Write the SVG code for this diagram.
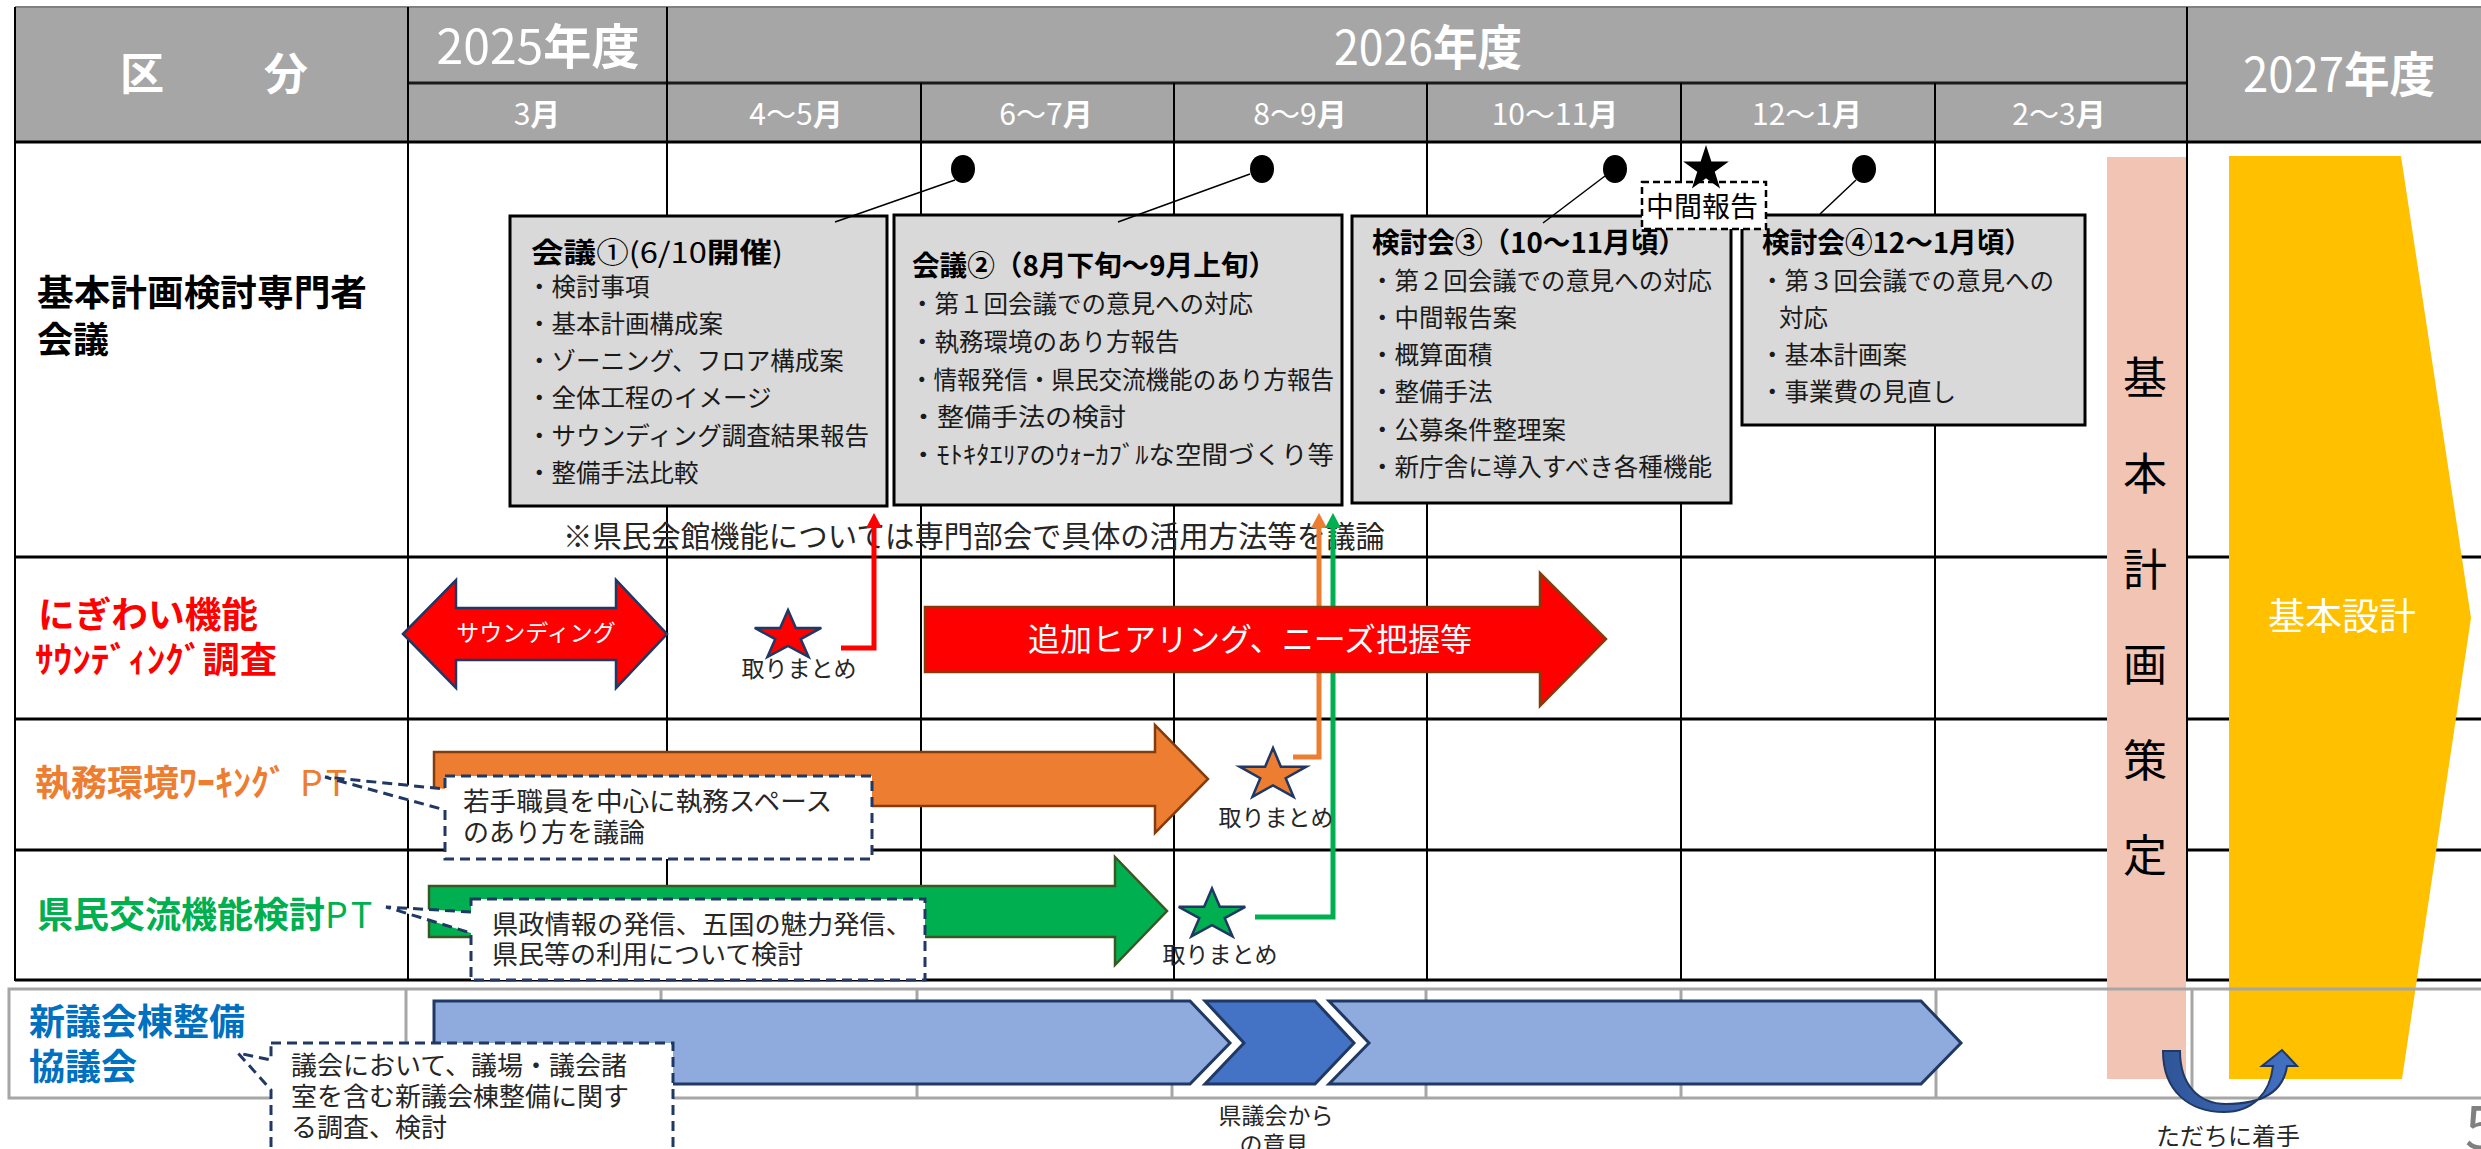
<svg xmlns="http://www.w3.org/2000/svg" width="2481" height="1149" viewBox="0 0 2481 1149">
<defs>
<style>
text { font-family: "Noto Sans CJK JP", "Noto Sans", sans-serif; }
.hd { fill:#fff; }
.b { font-weight:bold; }
.mon { font-size:30px; text-anchor:middle; fill:#fff; }
.hl { stroke:#1a1a1a; stroke-width:3; }
.gl { stroke:#000; stroke-width:2; }
.rl { stroke:#000; stroke-width:3; }
.g5 { stroke:#a6a6a6; stroke-width:3; fill:none; }
.box { fill:#d9d9d9; stroke:#000; stroke-width:3; }
.ttl { font-size:28px; fill:#000; }
.itm { font-size:24.5px; fill:#1a1a1a; }
.lead { stroke:#000; stroke-width:1.5; }
.star { stroke:#1f3864; stroke-width:2.5; }
.tm { font-size:23px; fill:#262626; text-anchor:middle; }
.co { fill:#fff; stroke:#1f3864; stroke-width:3; stroke-dasharray:10 6; }
.cot { font-size:26px; fill:#262626; }
.lbl { font-size:36px; font-weight:bold; }
.cn { fill:none; stroke-width:5; }
.chev { fill:#8faadc; stroke:#1f3864; stroke-width:3; }
.pk { font-size:44px; fill:#000; text-anchor:middle; }
</style>
<marker id="ahR" markerUnits="userSpaceOnUse" markerWidth="15" markerHeight="16" viewBox="0 0 15 16" refX="0" refY="8" orient="auto"><path d="M0,0 L15,8 L0,16 Z" fill="#ff0000"/></marker>
<marker id="ahO" markerUnits="userSpaceOnUse" markerWidth="15" markerHeight="16" viewBox="0 0 15 16" refX="0" refY="8" orient="auto"><path d="M0,0 L15,8 L0,16 Z" fill="#ed7d31"/></marker>
<marker id="ahG" markerUnits="userSpaceOnUse" markerWidth="15" markerHeight="16" viewBox="0 0 15 16" refX="0" refY="8" orient="auto"><path d="M0,0 L15,8 L0,16 Z" fill="#00b050"/></marker>
<linearGradient id="blueArc" x1="0" y1="0" x2="1" y2="0"><stop offset="0" stop-color="#2f5597"/><stop offset="1" stop-color="#4472c4"/></linearGradient>
</defs>
<rect x="0" y="0" width="2481" height="1149" fill="#fff"/>

<g id="header">
<rect x="15" y="7" width="2470" height="135" fill="#a6a6a6"/>
<line x1="15" y1="7" x2="2481" y2="7" stroke="#808080" stroke-width="2"/>
<line class="hl" x1="408" y1="83" x2="2187" y2="83"/>
<text x="120" y="90" class="hd b" font-size="44" textLength="188" lengthAdjust="spacing">区　　分</text>
<text x="538" y="64" text-anchor="middle" font-size="48" class="hd" textLength="203" lengthAdjust="spacingAndGlyphs">2025<tspan class="b">年度</tspan></text>
<text x="1428" y="65" text-anchor="middle" font-size="48" class="hd" textLength="188" lengthAdjust="spacingAndGlyphs">2026<tspan class="b">年度</tspan></text>
<text x="2339" y="92" text-anchor="middle" font-size="48" class="hd" textLength="192" lengthAdjust="spacingAndGlyphs">2027<tspan class="b">年度</tspan></text>
<text x="537" y="125" class="mon">3<tspan class="b">月</tspan></text>
<text x="796" y="125" class="mon">4～5<tspan class="b">月</tspan></text>
<text x="1046" y="125" class="mon">6～7<tspan class="b">月</tspan></text>
<text x="1300" y="125" class="mon">8～9<tspan class="b">月</tspan></text>
<text x="1555" y="125" class="mon">10～11<tspan class="b">月</tspan></text>
<text x="1807" y="125" class="mon">12～1<tspan class="b">月</tspan></text>
<text x="2059" y="125" class="mon">2～3<tspan class="b">月</tspan></text>
</g>

<g id="grid">
<line class="gl" x1="15" y1="7" x2="15" y2="981"/>
<line class="gl" x1="408" y1="7" x2="408" y2="981"/>
<line class="gl" x1="667" y1="7" x2="667" y2="981"/>
<line class="gl" x1="921" y1="83" x2="921" y2="981"/>
<line class="gl" x1="1174" y1="83" x2="1174" y2="981"/>
<line class="gl" x1="1427" y1="83" x2="1427" y2="981"/>
<line class="gl" x1="1681" y1="83" x2="1681" y2="981"/>
<line class="gl" x1="1935" y1="83" x2="1935" y2="981"/>
<line class="gl" x1="2187" y1="7" x2="2187" y2="981"/>
<line class="rl" x1="15" y1="142" x2="2481" y2="142"/>
<line class="rl" x1="15" y1="557" x2="2481" y2="557"/>
<line class="rl" x1="15" y1="719" x2="2481" y2="719"/>
<line class="rl" x1="15" y1="850" x2="2481" y2="850"/>
<line class="rl" x1="15" y1="980" x2="2481" y2="980"/>
</g>

<g id="label-kihon">
<text x="37" y="306" class="lbl" fill="#000" textLength="330" lengthAdjust="spacingAndGlyphs">基本計画検討専門者</text>
<text x="37" y="353" class="lbl" fill="#000">会議</text>
</g>
<g id="label-nigiwai">
<text x="38" y="628" class="lbl" fill="#ff0000" textLength="220" lengthAdjust="spacingAndGlyphs">にぎわい機能</text>
<text x="35" y="673" class="lbl" fill="#ff0000" textLength="242" lengthAdjust="spacingAndGlyphs">ｻｳﾝﾃﾞｨﾝｸﾞ調査</text>
</g>
<g id="label-shimu">
<text x="35" y="796" class="lbl" fill="#ed7d31">執務環境ﾜｰｷﾝｸﾞ<tspan x="300" font-weight="normal" letter-spacing="4">PT</tspan></text>
</g>
<g id="label-kenmin">
<text x="37" y="928" class="lbl" fill="#00b050">県民交流機能検討<tspan font-weight="normal" letter-spacing="4">PT</tspan></text>
</g>
<g id="label-gikai">
<text x="29" y="1035" class="lbl" fill="#0070c0">新議会棟整備</text>
<text x="29" y="1080" class="lbl" fill="#0070c0">協議会</text>
</g>

<g id="meeting1">
<rect class="box" x="510" y="216" width="377" height="290"/>
<text x="531" y="263" class="ttl" textLength="252" lengthAdjust="spacingAndGlyphs"><tspan class="b">会議</tspan>①(6/10<tspan class="b">開催</tspan>)</text>
<text x="527" y="296" class="itm">・検討事項</text>
<text x="527" y="333" class="itm">・基本計画構成案</text>
<text x="527" y="370" class="itm">・ゾーニング、フロア構成案</text>
<text x="527" y="407" class="itm">・全体工程のイメージ</text>
<text x="527" y="445" class="itm" textLength="342" lengthAdjust="spacingAndGlyphs">・サウンディング調査結果報告</text>
<text x="527" y="482" class="itm">・整備手法比較</text>
</g>
<g id="meeting2">
<rect class="box" x="894" y="215" width="448" height="290"/>
<text x="912" y="276" class="ttl b" textLength="364" lengthAdjust="spacingAndGlyphs">会議②（8月下旬～9月上旬）</text>
<text x="910" y="313" class="itm">・第１回会議での意見への対応</text>
<text x="910" y="351" class="itm">・執務環境のあり方報告</text>
<text x="910" y="389" class="itm" textLength="424" lengthAdjust="spacingAndGlyphs">・情報発信・県民交流機能のあり方報告</text>
<text x="910" y="426" class="itm" textLength="216" lengthAdjust="spacingAndGlyphs">・整備手法の検討</text>
<text x="910" y="464" class="itm" textLength="424" lengthAdjust="spacingAndGlyphs">・ﾓﾄｷﾀｴﾘｱのｳｫｰｶﾌﾞﾙな空間づくり等</text>
</g>
<g id="meeting3">
<rect class="box" x="1352" y="216" width="379" height="287" stroke="#333" stroke-width="2.5"/>
<text x="1372" y="253" class="ttl b" textLength="314" lengthAdjust="spacingAndGlyphs">検討会③（10～11月頃）</text>
<text x="1370" y="290" class="itm" textLength="342" lengthAdjust="spacingAndGlyphs">・第２回会議での意見への対応</text>
<text x="1370" y="327" class="itm">・中間報告案</text>
<text x="1370" y="364" class="itm">・概算面積</text>
<text x="1370" y="401" class="itm">・整備手法</text>
<text x="1370" y="439" class="itm">・公募条件整理案</text>
<text x="1370" y="476" class="itm" textLength="342" lengthAdjust="spacingAndGlyphs">・新庁舎に導入すべき各種機能</text>
</g>
<g id="meeting4">
<rect class="box" x="1742" y="215" width="343" height="210"/>
<text x="1762" y="253" class="ttl b" textLength="270" lengthAdjust="spacingAndGlyphs">検討会④12～1月頃）</text>
<text x="1760" y="290" class="itm">・第３回会議での意見への</text>
<text x="1779" y="327" class="itm">対応</text>
<text x="1760" y="364" class="itm">・基本計画案</text>
<text x="1760" y="401" class="itm">・事業費の見直し</text>
</g>
<g id="meeting-dots">
<line class="lead" x1="955" y1="180" x2="835" y2="222"/>
<line class="lead" x1="1250" y1="174" x2="1118" y2="222"/>
<line class="lead" x1="1605" y1="176" x2="1543" y2="223"/>
<line class="lead" x1="1856" y1="180" x2="1820" y2="214"/>
<ellipse cx="963" cy="169" rx="12" ry="14" fill="#000"/>
<ellipse cx="1262" cy="169" rx="12" ry="14" fill="#000"/>
<ellipse cx="1615" cy="169" rx="12" ry="14" fill="#000"/>
<ellipse cx="1864" cy="169" rx="12" ry="14" fill="#000"/>
</g>
<g id="interim">
<rect x="1642" y="182" width="124" height="47" fill="#fff" stroke="#000" stroke-width="2.5" stroke-dasharray="7 4"/>
<text x="1646" y="217" font-size="28" fill="#000" textLength="112" lengthAdjust="spacingAndGlyphs">中間報告</text>
<polygon fill="#000" transform="translate(1706 169) scale(24 24)" points="0,-1 0.2245,-0.309 0.9511,-0.309 0.3633,0.118 0.5878,0.809 0,0.382 -0.5878,0.809 -0.3633,0.118 -0.9511,-0.309 -0.2245,-0.309"/>
</g>
<g id="note">
<text x="563" y="547" font-size="30" fill="#262626" textLength="822" lengthAdjust="spacingAndGlyphs">※県民会館機能については専門部会で具体の活用方法等を議論</text>
</g>

<g id="connectors">
<path class="cn" stroke="#ff0000" d="M841,648 H874 V528" marker-end="url(#ahR)"/>
<path class="cn" stroke="#ed7d31" d="M1293,757 H1319 V528" marker-end="url(#ahO)"/>
<path class="cn" stroke="#00b050" d="M1255,917 H1333 V528" marker-end="url(#ahG)"/>
</g>

<g id="sounding">
<polygon fill="#ff0000" stroke="#1f3864" stroke-width="2.5" points="403,634 456,580 456,608 616,608 616,580 667,634 616,688 616,660 456,660 456,688"/>
<text x="536" y="641" font-size="23" fill="#fff" text-anchor="middle">サウンディング</text>
</g>
<g id="star-red">
<polygon class="star" fill="#ff0000" vector-effect="non-scaling-stroke" transform="translate(788 636) scale(35 26)" points="0,-1 0.2245,-0.309 0.9511,-0.309 0.3633,0.118 0.5878,0.809 0,0.382 -0.5878,0.809 -0.3633,0.118 -0.9511,-0.309 -0.2245,-0.309"/>
<text x="799" y="677" class="tm">取りまとめ</text>
</g>
<g id="hearing">
<polygon fill="#ff0000" stroke="#843c0c" stroke-width="2.5" points="925,607 1540,607 1540,573 1606,639 1540,706 1540,672 925,672"/>
<text x="1250" y="651" font-size="32" fill="#fff" text-anchor="middle">追加ヒアリング、ニーズ把握等</text>
</g>
<g id="shimu-arrow">
<polygon fill="#ed7d31" stroke="#843c0c" stroke-width="2.5" points="434,752 1155,752 1155,725 1208,779 1155,833 1155,806 434,806"/>
</g>
<g id="star-orange">
<polygon class="star" fill="#ed7d31" vector-effect="non-scaling-stroke" transform="translate(1273 775) scale(35 27)" points="0,-1 0.2245,-0.309 0.9511,-0.309 0.3633,0.118 0.5878,0.809 0,0.382 -0.5878,0.809 -0.3633,0.118 -0.9511,-0.309 -0.2245,-0.309"/>
<text x="1276" y="826" class="tm">取りまとめ</text>
</g>
<g id="kenmin-arrow">
<polygon fill="#00b050" stroke="#385723" stroke-width="2.5" points="429,886 1115,886 1115,857 1167,911 1115,965 1115,937 429,937"/>
</g>
<g id="star-green">
<polygon class="star" fill="#00b050" vector-effect="non-scaling-stroke" transform="translate(1212 915) scale(35 26.5)" points="0,-1 0.2245,-0.309 0.9511,-0.309 0.3633,0.118 0.5878,0.809 0,0.382 -0.5878,0.809 -0.3633,0.118 -0.9511,-0.309 -0.2245,-0.309"/>
<text x="1220" y="963" class="tm">取りまとめ</text>
</g>
<g id="callout-shimu">
<path class="co" d="M445,776 H872 V859 H445 V810 L325,777 L445,789 Z"/>
<text x="463" y="811" class="cot" textLength="369" lengthAdjust="spacingAndGlyphs">若手職員を中心に執務スペース</text>
<text x="463" y="842" class="cot">のあり方を議論</text>
</g>
<g id="callout-kenmin">
<path class="co" d="M471,899 H925 V980 H471 V933 L386,907 L471,912 Z"/>
<text x="492" y="934" class="cot" textLength="420" lengthAdjust="spacingAndGlyphs">県政情報の発信、五国の魅力発信、</text>
<text x="492" y="964" class="cot">県民等の利用について検討</text>
</g>

<g id="plan">
<rect x="2107" y="157" width="79" height="922" fill="#f1c4b4"/>
<text class="pk"><tspan x="2145" y="394">基</tspan><tspan x="2145" y="490">本</tspan><tspan x="2145" y="586">計</tspan><tspan x="2145" y="681">画</tspan><tspan x="2145" y="777">策</tspan><tspan x="2145" y="872">定</tspan></text>
</g>
<g id="design">
<polygon fill="#ffc000" points="2229,156 2401,156 2471,618 2402,1079 2229,1079"/>
<text x="2342" y="630" font-size="37" fill="#fff" text-anchor="middle">基本設計</text>
</g>

<g id="grid-row5">
<rect class="g5" x="9" y="989" width="2490" height="109"/>
<line class="g5" x1="406" y1="989" x2="406" y2="1098"/>
<line class="g5" x1="661" y1="989" x2="661" y2="1098"/>
<line class="g5" x1="917" y1="989" x2="917" y2="1098"/>
<line class="g5" x1="1172" y1="989" x2="1172" y2="1098"/>
<line class="g5" x1="1426" y1="989" x2="1426" y2="1098"/>
<line class="g5" x1="1681" y1="989" x2="1681" y2="1098"/>
<line class="g5" x1="1936" y1="989" x2="1936" y2="1098"/>
<line class="g5" x1="2192" y1="989" x2="2192" y2="1098"/>
</g>
<g id="gikai-flow">
<polygon class="chev" points="434,1001 1190,1001 1230,1043 1190,1084 434,1084"/>
<polygon class="chev" fill="#4472c4" style="fill:#4472c4" points="1205,1001 1315,1001 1354,1043 1315,1084 1205,1084 1244,1043"/>
<polygon class="chev" points="1329,1001 1921,1001 1961,1043 1921,1084 1329,1084 1369,1043"/>
<text x="1276" y="1124" class="tm">県議会から</text>
<text x="1274" y="1153" class="tm">の意見</text>
</g>
<g id="callout-gikai">
<path class="co" d="M271,1043 H673 V1165 H271 V1090 L238,1053 L271,1060 Z"/>
<text x="291" y="1075" class="cot">議会において、議場・議会諸</text>
<text x="291" y="1106" class="cot">室を含む新議会棟整備に関す</text>
<text x="291" y="1137" class="cot">る調査、検討</text>
</g>
<g id="start-arrow">
<path fill="url(#blueArc)" stroke="#1f3864" stroke-width="2" d="M2163,1051 C2163,1092 2190,1112 2224,1112 C2252,1112 2270,1094 2273,1066 L2262,1066 L2282,1050 L2297,1066 L2287,1066 C2283,1094 2258,1104 2226,1104 C2198,1104 2180,1084 2180,1051 Z"/>
<text x="2228" y="1145" font-size="24" fill="#262626" text-anchor="middle">ただちに着手</text>
</g>
<text x="2465" y="1149" font-size="60" fill="#808080">5</text>
</svg>
